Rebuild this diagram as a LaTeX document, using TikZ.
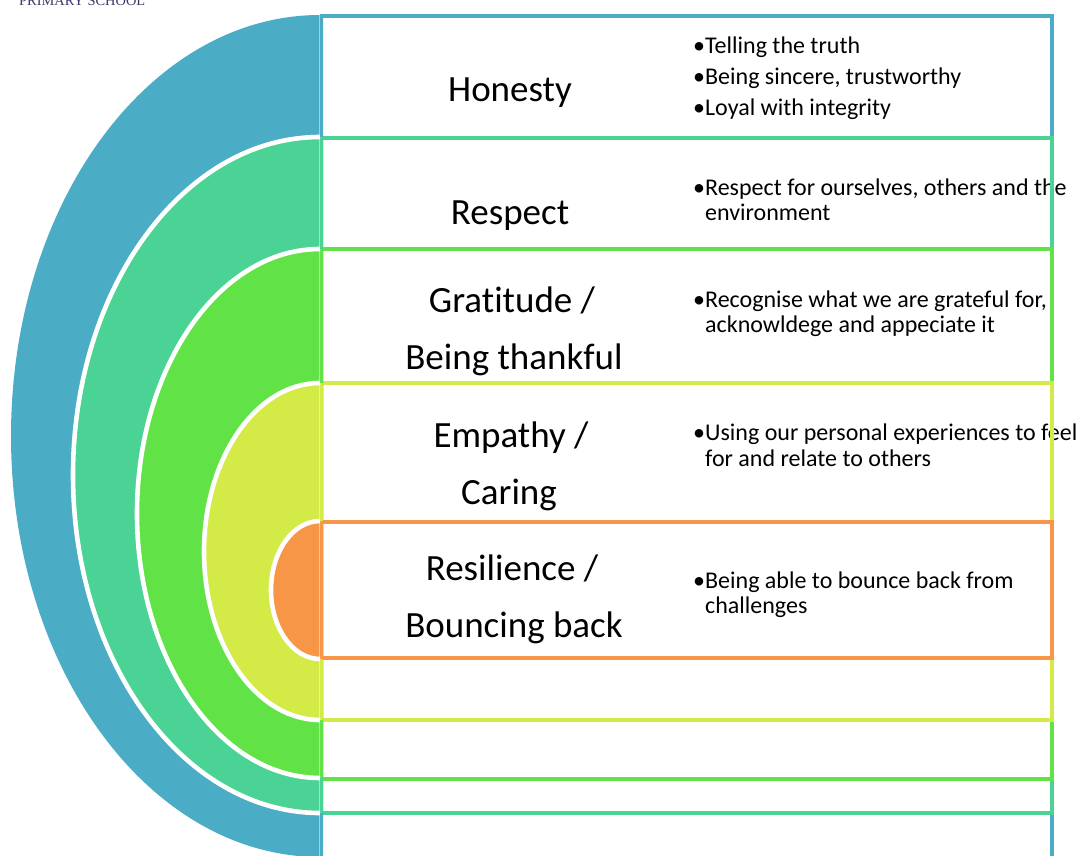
\documentclass[tikz,border=0pt]{standalone}
\usepackage{fontspec}
\setmainfont{Carlito}[Ligatures=NoCommon]
\newfontfamily\schoolfont{Liberation Serif}
\definecolor{cblue}{HTML}{4BACC6}
\definecolor{cteal}{HTML}{4AD394}
\definecolor{cgreen}{HTML}{61E347}
\definecolor{cyellow}{HTML}{D4EB47}
\definecolor{corange}{HTML}{F79646}
\definecolor{cnavy}{HTML}{3B3A6B}
\begin{document}
\begin{tikzpicture}[x=1pt,y=-1pt,
  title/.style={anchor=base,inner sep=0pt,font=\fontsize{37}{44}\selectfont},
  bul/.style={anchor=base west,inner sep=0pt,font=\fontsize{24}{28}\selectfont},
  frame/.style={line width=4.6pt},
  arcline/.style={draw=white,line width=4.6pt}]
\useasboundingbox (0,0) rectangle (1082,856);

% header remnant (cut off at the top, as in the reference)
\node[anchor=base west,inner sep=0pt,text=cnavy,font=\schoolfont\fontsize{14.4}{16}\selectfont] (school) at (19,6) {PRIMARY SCHOOL};

% titles
\node[title] (hon) at (510,102) {Honesty};
\node[title] (res) at (510,224) {Respect};
\node[title] (graA) at (512,312) {Gratitude /};
\node[title] (graB) at (514,369) {Being thankful};
\node[title] (empA) at (511,447) {Empathy /};
\node[title] (empB) at (509,504) {Caring};
\node[title] (resA) at (512,580) {Resilience /};
\node[title] (resB) at (514,637) {Bouncing back};

% bullets
\node[bul] (b1) at (693,54) {•Telling the truth};
\node[bul] (b2) at (693,85) {•Being sincere, trustworthy};
\node[bul] (b3) at (693,116) {•Loyal with integrity};
\node[bul] (b4) at (693,195) {•Respect for ourselves, others and the};
\node[bul] (b4b) at (705,220) {environment};
\node[bul] (b5) at (693,307) {•Recognise what we are grateful for,};
\node[bul] (b5b) at (705,332) {acknowldege and appeciate it};
\node[bul] (b6) at (693,440) {•Using our personal experiences to feel};
\node[bul] (b6b) at (705,466) {for and relate to others};
\node[bul] (b7) at (693,588) {•Being able to bounce back from};
\node[bul] (b7b) at (705,613) {challenges};

% frames
\draw[frame,cblue] (320,16) -- (1052,16) -- (1052,880);
\draw[frame,cteal] (320,138) -- (1052,138) -- (1052,813) -- (320,813);
\draw[frame,cgreen] (320,249) -- (1052,249) -- (1052,779) -- (320,779);
\draw[frame,cyellow] (320,383) -- (1052,383) -- (1052,720) -- (320,720);
\draw[frame,corange] (320,522) -- (1052,522) -- (1052,658) -- (320,658);

% half ellipses
\fill[cblue] (323,15) -- (320,15) arc (270:90:309 and 421) -- (323,857) -- cycle;
\fill[cteal] (323,137) -- (320,137) arc (270:90:247 and 338) -- (323,813) -- cycle;
\draw[arcline] (320,137) arc (270:90:247 and 338);
\fill[cgreen] (323,249) -- (320,249) arc (270:90:183 and 264.5) -- (323,778) -- cycle;
\draw[arcline] (320,249) arc (270:90:183 and 264.5);
\fill[cyellow] (323,383) -- (320,383) arc (270:90:116 and 168.5) -- (323,720) -- cycle;
\draw[arcline] (320,383) arc (270:90:116 and 168.5);
\fill[corange] (323,521) -- (320,521) arc (270:90:49 and 69) -- (323,659) -- cycle;
\draw[arcline] (320,521) arc (270:90:49 and 69);

% thin seam
\draw[white,opacity=0.45,line width=1pt] (319.5,15) -- (319.5,856);
\end{tikzpicture}
\end{document}
